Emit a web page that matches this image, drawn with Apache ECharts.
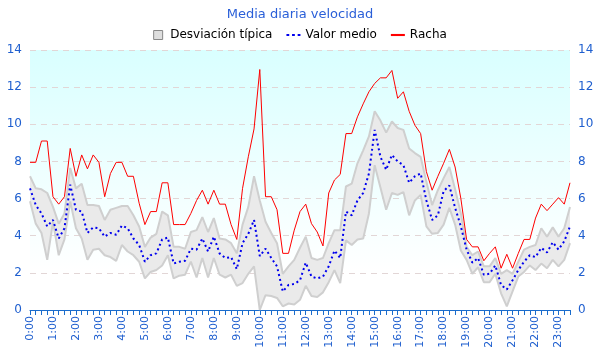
<!DOCTYPE html>
<html><head><meta charset="utf-8">
<script src="https://cdn.jsdelivr.net/npm/echarts@6/dist/echarts.min.js"></script>
<style>html,body{margin:0;padding:0;background:#fff}#c{width:600px;height:360px}</style>
</head><body><div id="c"></div>
<script>
const categories = ["0:00","0:15","0:30","0:45","1:00","1:15","1:30","1:45","2:00","2:15","2:30","2:45","3:00","3:15","3:30","3:45","4:00","4:15","4:30","4:45","5:00","5:15","5:30","5:45","6:00","6:15","6:30","6:45","7:00","7:15","7:30","7:45","8:00","8:15","8:30","8:45","9:00","9:15","9:30","9:45","10:00","10:15","10:30","10:45","11:00","11:15","11:30","11:45","12:00","12:15","12:30","12:45","13:00","13:15","13:30","13:45","14:00","14:15","14:30","14:45","15:00","15:15","15:30","15:45","16:00","16:15","16:30","16:45","17:00","17:15","17:30","17:45","18:00","18:15","18:30","18:45","19:00","19:15","19:30","19:45","20:00","20:15","20:30","20:45","21:00","21:15","21:30","21:45","22:00","22:15","22:30","22:45","23:00","23:15","23:30"];

const racha = [7.95,7.95,9.1,9.1,6.1,5.7,6.1,8.7,7.2,8.35,7.6,8.35,7.95,6.1,7.35,7.95,7.95,7.2,7.2,5.75,4.6,5.3,5.3,6.85,6.85,4.6,4.6,4.6,5.2,5.9,6.45,5.7,6.45,5.7,5.7,4.6,3.8,6.55,8.25,9.75,12.95,6.1,6.1,5.4,3.05,3.05,4.3,5.3,5.7,4.65,4.2,3.45,6.3,7.0,7.3,9.5,9.5,10.4,11.1,11.75,12.2,12.5,12.5,12.9,11.4,11.75,10.7,9.95,9.5,7.45,6.45,7.2,7.9,8.65,7.7,6.0,3.8,3.4,3.4,2.65,3.05,3.4,2.25,3.0,2.25,3.05,3.8,3.8,4.95,5.7,5.35,5.7,6.05,5.7,6.85];

const valorMedio = [6.55,5.65,5.2,4.5,4.85,3.85,4.4,6.75,5.4,5.3,4.15,4.45,4.4,3.95,4.15,4.05,4.55,4.4,3.85,3.5,2.6,2.95,3.05,3.8,3.9,2.5,2.6,2.65,3.3,3.25,3.85,3.15,3.95,3.05,2.8,2.85,2.2,3.6,4.1,4.85,2.9,3.3,2.8,2.35,1.0,1.35,1.4,1.6,2.55,1.8,1.7,1.8,2.35,3.2,2.8,5.3,5.1,5.9,6.3,7.35,9.7,8.25,7.55,8.35,8.0,7.8,6.85,7.2,7.35,5.9,4.85,5.1,6.4,6.7,5.5,4.5,3.25,2.55,2.8,1.9,1.95,2.4,1.35,1.1,1.6,2.15,2.6,2.95,2.85,3.35,3.1,3.65,3.25,3.7,4.5];

const bandaSuperior = [7.2,6.55,6.5,6.3,5.55,4.65,5.2,7.65,6.55,6.8,5.65,5.65,5.6,4.85,5.4,5.5,5.6,5.6,5.1,4.5,3.4,3.9,4.1,5.3,5.1,3.4,3.4,3.3,4.2,4.3,5.0,4.2,4.95,3.85,3.8,3.6,3.05,4.6,5.55,7.2,5.9,4.75,4.15,3.6,1.95,2.35,2.7,3.35,3.95,2.8,2.7,2.8,3.6,4.3,4.3,6.65,6.8,7.9,8.6,9.35,10.7,10.2,9.55,10.15,9.8,9.7,8.7,8.45,8.25,6.9,5.65,6.45,7.1,7.7,6.5,5.2,3.4,2.95,3.15,2.35,2.35,2.8,1.95,2.15,1.95,2.6,3.25,3.4,3.5,4.4,3.95,4.45,3.95,4.4,5.55];

const bandaInferior = [5.85,4.65,4.15,2.7,4.75,2.95,3.8,5.85,4.4,3.85,2.7,3.25,3.3,2.95,2.85,2.65,3.5,3.15,2.95,2.6,1.7,2.05,2.15,2.4,2.95,1.7,1.85,1.9,2.6,1.75,2.8,1.75,2.8,1.9,1.75,1.9,1.3,1.45,1.95,2.35,0.0,0.8,0.75,0.65,0.2,0.35,0.3,0.55,1.3,0.75,0.7,0.95,1.5,2.15,1.45,3.75,3.5,3.8,3.85,5.2,7.8,6.6,5.4,6.3,6.2,6.35,5.1,5.9,6.2,4.5,4.1,4.15,4.6,5.5,4.6,3.2,2.7,1.95,2.3,1.5,1.5,1.95,0.9,0.2,1.0,1.8,2.05,2.4,2.15,2.5,2.25,2.7,2.35,2.7,3.6];

const yMin = 0, yMax = 14, yStep = 2;

const bandaAncho = bandaSuperior.map((v, i) => +(v - bandaInferior[i]).toFixed(3));

const blue = '#1f5fcf';
const chart = echarts.init(document.getElementById('c'), null, {renderer: 'canvas'});
const yAxisBase = {
  type: 'value', min: yMin, max: yMax, interval: yStep,
  axisLine: {show: false}, axisTick: {show: false},
  axisLabel: {color: blue, fontSize: 12, fontFamily: 'DejaVu Sans', margin: 8}
};
chart.setOption({
  animation: false,
  title: {
    text: 'Media diaria velocidad', left: 'center', top: 3,
    textStyle: {color: '#2a5fd8', fontSize: 13, fontWeight: 'normal', fontFamily: 'DejaVu Sans'}
  },
  legend: {
    top: 24, left: 'center', itemGap: 14, itemWidth: 14, itemHeight: 9, symbolKeepAspect: true,
    textStyle: {color: '#000', fontSize: 12, fontFamily: 'DejaVu Sans'},
    data: [
      {name: 'Desviación típica', icon: 'path://M0,0h9v9h-9z',
        itemStyle: {color: '#dedede', borderColor: '#888', borderWidth: 1}},
      {name: 'Valor medio', icon: 'path://M0,0h3v2.2h-3z M6,0h3v2.2h-3z M12,0h3v2.2h-3z',
        itemStyle: {color: '#0000ee'}},
      {name: 'Racha', icon: 'path://M0,0h12v1.8h-12z', itemStyle: {color: '#ff0000'}}
    ]
  },
  grid: {
    left: 30, right: 30, top: 50, bottom: 50, show: true, borderWidth: 0,
    backgroundColor: new echarts.graphic.LinearGradient(0, 0, 0, 1, [
      {offset: 0, color: '#d9ffff'}, {offset: 0.85, color: '#ffffff'}, {offset: 1, color: '#ffffff'}
    ])
  },
  xAxis: {
    type: 'category', data: categories, boundaryGap: false,
    axisLine: {lineStyle: {color: '#1a6ccc', width: 1}},
    axisTick: {show: true, interval: 0, length: 5, lineStyle: {color: '#1a6ccc'}},
    axisLabel: {interval: 3, rotate: 90, color: blue, fontSize: 11, fontFamily: 'DejaVu Sans', margin: 6},
    splitLine: {show: false}
  },
  yAxis: [
    Object.assign({}, yAxisBase, {position: 'left',
      splitLine: {show: true, lineStyle: {color: '#e2d6d6', type: [6, 5], width: 1}}}),
    Object.assign({}, yAxisBase, {position: 'right', splitLine: {show: false}})
  ],
  series: [
    {
      name: 'base', type: 'line', stack: 'banda', data: bandaInferior,
      symbol: 'none', silent: true,
      lineStyle: {color: '#cfcfcf', width: 2}, z: 1
    },
    {
      name: 'Desviación típica', type: 'line', stack: 'banda', data: bandaAncho,
      symbol: 'none', silent: true,
      lineStyle: {color: '#cfcfcf', width: 2},
      itemStyle: {color: '#dedede', borderColor: '#888'},
      areaStyle: {color: '#eaeaea', opacity: 1}, z: 1
    },
    {
      name: 'Valor medio', type: 'line', data: valorMedio, symbol: 'none',
      lineStyle: {color: '#0000ee', width: 2, type: [2, 3]},
      itemStyle: {color: '#0000ee'}, z: 3
    },
    {
      name: 'Racha', type: 'line', data: racha, symbol: 'none',
      lineStyle: {color: '#ff0000', width: 1},
      itemStyle: {color: '#ff0000'}, z: 4
    }
  ]
});
</script>
</body></html>
